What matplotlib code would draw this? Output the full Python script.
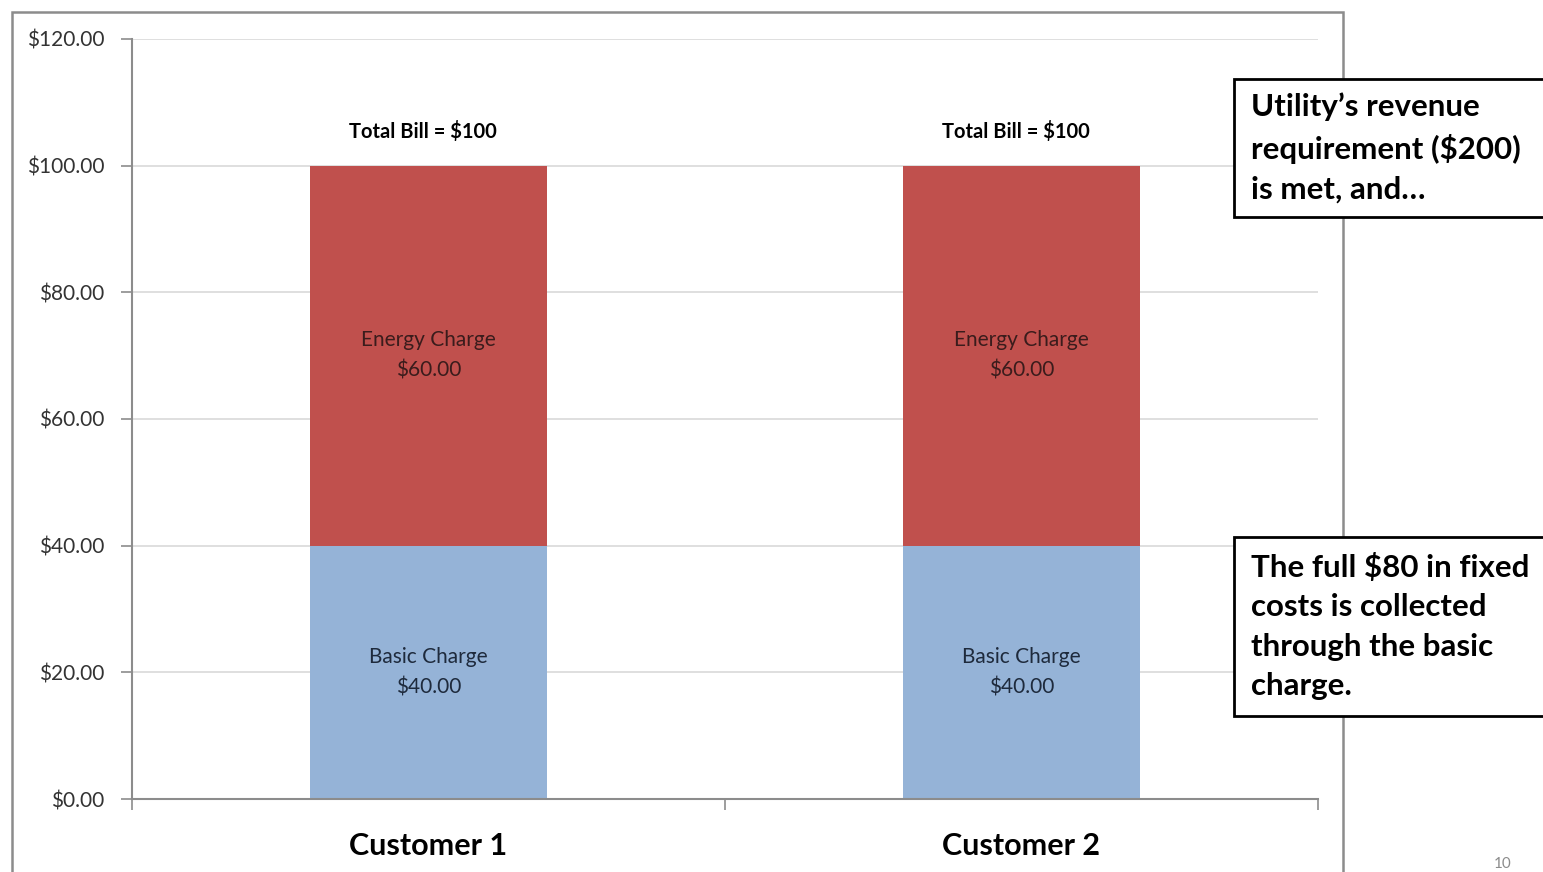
import matplotlib.pyplot as plt
from matplotlib.patches import Rectangle

plt.rcParams['font.family'] = ['Lato', 'DejaVu Sans']

customers = ['Customer 1', 'Customer 2']
basic_charge = [40.0, 40.0]
energy_charge = [60.0, 60.0]
yticks = [0, 20, 40, 60, 80, 100, 120]

note_top = "Utility\u2019s revenue\nrequirement ($200)\nis met, and\u2026"
note_bottom = "The full $80 in fixed\ncosts is collected\nthrough the basic\ncharge."

BLUE = '#95b3d7'
RED = '#c0504d'
AXIS = '#8c8c8c'

fig = plt.figure(figsize=(15.43, 8.72), dpi=100)
ax = fig.add_axes([0.0855, 0.0837, 0.7686, 0.8716])

x = list(range(len(customers)))
ax.bar(x, basic_charge, width=0.4, color=BLUE, zorder=2)
ax.bar(x, energy_charge, width=0.4, bottom=basic_charge, color=RED, zorder=2)

for i in x:
    ax.text(i, basic_charge[i] / 2, f"Basic Charge\n${basic_charge[i]:.2f}",
            ha='center', va='center', fontsize=15, color='#1e2a3c',
            linespacing=1.65, zorder=3)
    ax.text(i, basic_charge[i] + energy_charge[i] / 2,
            f"Energy Charge\n${energy_charge[i]:.2f}",
            ha='center', va='center', fontsize=15, color='#3a1c1c',
            linespacing=1.65, zorder=3)
    total = basic_charge[i] + energy_charge[i]
    ax.annotate(f"Total Bill = ${total:.0f}", (i - 0.01, total),
                xytext=(0, 17), textcoords='offset points',
                ha='center', va='bottom', fontsize=14.5, fontweight='bold')

ax.set_xlim(-0.5, 1.5)
ax.set_ylim(0, 120)
ax.set_yticks(yticks)
ax.set_yticklabels([f"${v:.2f}" for v in yticks], fontsize=15, color='#333333')
ax.set_xticks(x)
ax.set_xticklabels(customers, fontsize=22, fontweight='bold')
ax.tick_params(axis='x', length=0, pad=24)
ax.tick_params(axis='y', length=8, color=AXIS, width=1.2, pad=12, direction='out')

# category separators on the x axis
ax.set_xticks([-0.5, 0.5, 1.5], minor=True)
ax.tick_params(axis='x', which='minor', length=8, color=AXIS, width=1.2)

ax.grid(axis='y', color='#d9d9d9', linewidth=1.2, zorder=0)
for side in ['top', 'right']:
    ax.spines[side].set_visible(False)
for side in ['left', 'bottom']:
    ax.spines[side].set_color(AXIS)
    ax.spines[side].set_linewidth(1.5)

# chart-area frame
fig.patches.append(Rectangle((0.0078, -0.05), 0.8626, 1.0362, transform=fig.transFigure,
                             fill=False, edgecolor='#8c8c8c', linewidth=1.8, zorder=0))

# callout boxes
for y0, h, txt in [(1 - 217 / 872, 138 / 872, note_top),
                   (1 - 716 / 872, 179 / 872, note_bottom)]:
    fig.patches.append(Rectangle((1234 / 1543, y0), 0.3, h, transform=fig.transFigure,
                                 facecolor='white', edgecolor='black', linewidth=2, zorder=5))
    fig.text(1251 / 1543, y0 + h / 2, txt, ha='left', va='center', fontsize=22.5,
             fontweight='bold', linespacing=1.5, zorder=6)

fig.text(1503 / 1543, 1 - 871 / 872, "10", ha='center', va='bottom', fontsize=11, color='#8c8c8c')

fig.savefig('out.png', dpi=100)
